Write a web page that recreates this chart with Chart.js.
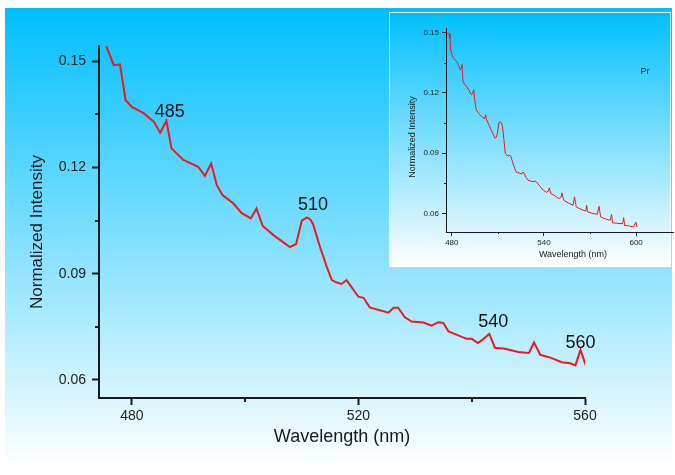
<!DOCTYPE html>
<html><head><meta charset="utf-8">
<script src="https://cdn.jsdelivr.net/npm/chart.js@4.4.1/dist/chart.umd.min.js"></script>
<style>
html,body{margin:0;padding:0;background:#fff;}
#wrap{position:relative;width:675px;height:475px;overflow:hidden;}
#bg{position:absolute;left:5px;top:8px;width:667px;height:459px;background:linear-gradient(#00bfff,#ffffff);}
#insetBg{position:absolute;left:389px;top:12px;width:280px;height:254px;background:linear-gradient(#00bfff,#ffffff);border:1px solid rgba(255,255,255,0.6);}
#main{position:absolute;left:0;top:0;}
#inset{position:absolute;left:389px;top:12px;}
</style></head>
<body>
<div id="wrap">
<div id="bg"></div>
<canvas id="main" width="675" height="475"></canvas>
<div id="insetBg"></div>
<canvas id="inset" width="286" height="256"></canvas>
</div>
<script>
// ---------- main chart data ----------
const wavelengths = [475.5, 476.8, 477.9, 478.9, 480.0, 482.0, 483.9, 485.0, 486.1, 487.0, 489.1, 491.7, 492.9, 494.0, 495.0, 496.0, 497.9, 499.4, 501.0, 502.0, 503.1, 505.0, 507.9, 509.0, 510.0, 510.9, 511.5, 512.0, 513.2, 514.4, 515.3, 516.2, 517.0, 517.9, 520.0, 520.9, 522.0, 525.3, 526.2, 527.0, 528.2, 529.4, 531.5, 532.9, 534.1, 535.0, 535.9, 537.3, 539.1, 540.0, 541.1, 542.1, 543.1, 544.1, 545.9, 548.2, 550.1, 551.0, 552.1, 553.9, 555.9, 557.4, 558.3, 559.2, 560.2];
const intensities = [0.1542, 0.1489, 0.1491, 0.1390, 0.1371, 0.1354, 0.1329, 0.1298, 0.1332, 0.1254, 0.1221, 0.1202, 0.1176, 0.1211, 0.1150, 0.1122, 0.1099, 0.1071, 0.1056, 0.1084, 0.1035, 0.1009, 0.0975, 0.0984, 0.1050, 0.1059, 0.1053, 0.1040, 0.0976, 0.0920, 0.0882, 0.0875, 0.0871, 0.0882, 0.0835, 0.0832, 0.0805, 0.0790, 0.0804, 0.0804, 0.0777, 0.0765, 0.0762, 0.0753, 0.0763, 0.0761, 0.0737, 0.0728, 0.0716, 0.0716, 0.0704, 0.0716, 0.0730, 0.0691, 0.0688, 0.0679, 0.0676, 0.0706, 0.0671, 0.0663, 0.0650, 0.0647, 0.0641, 0.0685, 0.0638];
const xTicksMain = [480, 520, 560];
const xMinorMain = [500, 540];
const yTicksMain = [0.06, 0.09, 0.12, 0.15];
const yMinorMain = [0.075, 0.105, 0.135];
const peakLabels = ['485', '510', '540', '560'];
const peakLabelX = [486.7, 512.0, 543.8, 559.2];
const peakLabelY = [0.1356, 0.1094, 0.0764, 0.0705];
const xTitle = 'Wavelength (nm)';
const yTitle = 'Normalized Intensity';

// ---------- inset data ----------
const insetWavelengths = [476.2, 477.5, 478.2, 478.8, 479.3, 480.2, 481.1, 482.2, 483.3, 484.5, 485.5, 486.0, 486.6, 487.0, 487.3, 488.6, 489.9, 491.3, 492.8, 493.5, 494.3, 494.8, 495.9, 497.8, 499.8, 501.2, 502.0, 502.6, 504.2, 506.2, 508.2, 509.0, 509.7, 510.6, 511.5, 512.3, 513.0, 514.0, 514.8, 516.5, 517.8, 518.5, 520.2, 521.8, 524.0, 525.5, 526.3, 527.0, 528.2, 529.6, 532.3, 534.2, 535.1, 537.3, 539.5, 541.5, 542.8, 543.5, 544.4, 546.9, 549.4, 551.0, 551.7, 552.8, 555.8, 558.9, 559.9, 561.0, 564.1, 567.2, 567.8, 568.3, 571.5, 574.7, 575.8, 576.9, 580.0, 583.1, 584.0, 584.6, 588.0, 591.2, 591.9, 592.5, 595.5, 598.3, 599.8, 600.6];
const insetIntensities = [0.1500, 0.1496, 0.1494, 0.1470, 0.1414, 0.1385, 0.1372, 0.1362, 0.1355, 0.1335, 0.1314, 0.1325, 0.1340, 0.1290, 0.1255, 0.1240, 0.1227, 0.1210, 0.1189, 0.1200, 0.1214, 0.1170, 0.1114, 0.1095, 0.1078, 0.1070, 0.1090, 0.1065, 0.1039, 0.1005, 0.0973, 0.0980, 0.0998, 0.1050, 0.1056, 0.1048, 0.1031, 0.0960, 0.0898, 0.0885, 0.0889, 0.0881, 0.0840, 0.0806, 0.0800, 0.0795, 0.0806, 0.0800, 0.0780, 0.0765, 0.0758, 0.0760, 0.0756, 0.0735, 0.0715, 0.0705, 0.0710, 0.0727, 0.0699, 0.0688, 0.0674, 0.0678, 0.0702, 0.0665, 0.0652, 0.0640, 0.0682, 0.0632, 0.0620, 0.0611, 0.0640, 0.0608, 0.0600, 0.0595, 0.0635, 0.0582, 0.0572, 0.0565, 0.0594, 0.0553, 0.0550, 0.0548, 0.0578, 0.0540, 0.0537, 0.0532, 0.0557, 0.0532];
const xTicksInset = [480, 540, 600];
const xMinorInset = [510, 570];
const yTicksInset = [0.06, 0.09, 0.12, 0.15];
const yMinorInset = [0.075, 0.105, 0.135];
const insetTag = 'Pr';

const FONT = '"Liberation Sans", Arial, sans-serif';
const AXIS = '#1a1a1a';
const RED = '#f01818';

const decor = {
  id: 'decor',
  afterDraw(chart, args, o) {
    const ctx = chart.ctx, xs = chart.scales.x, ys = chart.scales.y;
    ctx.save();
    ctx.strokeStyle = o.tickColor; ctx.lineWidth = o.tickWidth;
    (o.xMinor || []).forEach(v => {
      const px = Math.round(xs.getPixelForValue(v)) + 0.5 * (o.tickWidth % 2);
      ctx.beginPath(); ctx.moveTo(px, xs.top); ctx.lineTo(px, xs.top + o.minorLen); ctx.stroke();
    });
    (o.yMinor || []).forEach(v => {
      const py = Math.round(ys.getPixelForValue(v)) + 0.5 * (o.tickWidth % 2);
      ctx.beginPath(); ctx.moveTo(ys.right, py); ctx.lineTo(ys.right - o.minorLen, py); ctx.stroke();
    });
    ctx.textAlign = 'center'; ctx.textBaseline = 'middle';
    (o.texts || []).forEach(t => {
      ctx.save(); ctx.font = t.font; ctx.fillStyle = t.color;
      ctx.translate(t.x, t.y); if (t.rot) ctx.rotate(t.rot);
      ctx.fillText(t.text, 0, 0); ctx.restore();
    });
    if (o.labels) {
      ctx.font = o.labelFont; ctx.fillStyle = o.labelColor;
      o.labels.text.forEach((s, i) => {
        ctx.fillText(s, xs.getPixelForValue(o.labels.x[i]), ys.getPixelForValue(o.labels.y[i]));
      });
    }
    ctx.restore();
  }
};

function makeChart(id, cfg) {
  return new Chart(document.getElementById(id), {
    type: 'line',
    data: { datasets: [{
      data: cfg.xs.map((x, i) => ({ x: x, y: cfg.ys[i] })),
      borderColor: RED, borderWidth: cfg.lineWidth, pointRadius: 0, tension: 0, fill: false
    }] },
    options: {
      responsive: false, animation: false, devicePixelRatio: 1,
      layout: { padding: cfg.padding },
      plugins: { legend: { display: false }, tooltip: { enabled: false }, decor: cfg.decor },
      scales: {
        x: {
          type: 'linear', min: cfg.xMin, max: cfg.xMax,
          afterFit: s => { s.height = cfg.xHeight; },
          afterBuildTicks: s => { s.ticks = cfg.xTicks.map(v => ({ value: v })); },
          border: { display: true, color: AXIS, width: cfg.axisWidth },
          grid: { display: true, drawOnChartArea: false, drawTicks: true, tickLength: cfg.tickLen, tickWidth: cfg.axisWidth, tickColor: AXIS },
          ticks: { font: { family: FONT, size: cfg.tickSize }, color: '#222', padding: cfg.xPad, maxRotation: 0, autoSkip: false, callback: v => String(v) }
        },
        y: {
          type: 'linear', min: cfg.yMin, max: cfg.yMax,
          afterFit: s => { s.width = cfg.yWidth; },
          afterBuildTicks: s => { s.ticks = cfg.yTicks.map(v => ({ value: v })); },
          border: { display: true, color: AXIS, width: cfg.axisWidth },
          grid: { display: true, drawOnChartArea: false, drawTicks: true, tickLength: cfg.tickLen, tickWidth: cfg.axisWidth, tickColor: AXIS },
          ticks: { font: { family: FONT, size: cfg.tickSize }, color: '#222', padding: cfg.yPad, autoSkip: false, callback: v => v.toFixed(2) }
        }
      }
    },
    plugins: [decor]
  });
}

makeChart('main', {
  xs: wavelengths, ys: intensities, lineWidth: 2,
  padding: { top: 46, right: 90, left: 0, bottom: 0 },
  xMin: 474.2, xMax: 560, yMin: 0.0549, yMax: 0.1543,
  xHeight: 77, yWidth: 99, axisWidth: 2, tickLen: 7, tickSize: 14, xPad: 3, yPad: 6,
  xTicks: xTicksMain, yTicks: yTicksMain,
  decor: {
    tickColor: AXIS, tickWidth: 2, minorLen: 4, xMinor: xMinorMain, yMinor: yMinorMain,
    texts: [
      { text: xTitle, x: 342, y: 437, font: '18px ' + FONT, color: '#1a1a1a' },
      { text: yTitle, x: 37, y: 232, rot: -Math.PI / 2, font: '17px ' + FONT, color: '#1a1a1a' }
    ],
    labels: { text: peakLabels, x: peakLabelX, y: peakLabelY },
    labelFont: '18px ' + FONT, labelColor: '#111'
  }
});

makeChart('inset', {
  xs: insetWavelengths, ys: insetIntensities, lineWidth: 1,
  padding: { top: 16, right: 2, left: 0, bottom: 0 },
  xMin: 476.2, xMax: 624, yMin: 0.0507, yMax: 0.1522,
  xHeight: 36, yWidth: 57, axisWidth: 1, tickLen: 4, tickSize: 8, xPad: 2, yPad: 3,
  xTicks: xTicksInset, yTicks: yTicksInset,
  decor: {
    tickColor: AXIS, tickWidth: 1, minorLen: 2, xMinor: xMinorInset, yMinor: yMinorInset,
    texts: [
      { text: xTitle, x: 184, y: 243, font: '9px ' + FONT, color: '#222' },
      { text: yTitle, x: 24, y: 125, rot: -Math.PI / 2, font: '9px ' + FONT, color: '#222' },
      { text: insetTag, x: 256, y: 60, font: '9px ' + FONT, color: '#222' }
    ]
  }
});
</script>
</body></html>
